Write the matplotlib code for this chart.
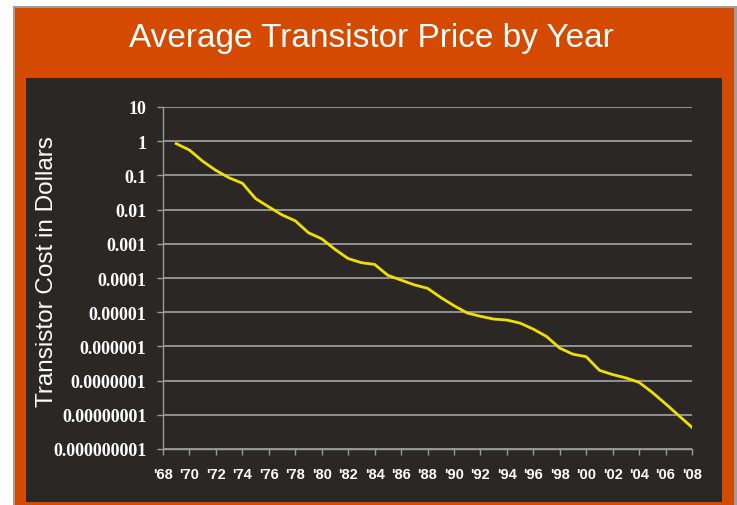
import matplotlib
matplotlib.use("Agg")
import matplotlib.pyplot as plt
from matplotlib.patches import Rectangle

# yearly average transistor price (dollars)
years = list(range(1969, 2009))
cost = [0.85, 0.55, 0.26, 0.14, 0.085, 0.059, 0.021, 0.012, 0.007, 0.0047,
        0.0021, 0.0014, 6.9e-4, 3.7e-4, 2.8e-4, 2.5e-4, 1.2e-4, 8.7e-5, 6.3e-5, 5.0e-5,
        2.7e-5, 1.55e-5, 9.5e-6, 7.6e-6, 6.3e-6, 5.9e-6, 4.8e-6, 3.2e-6, 1.95e-6, 8.9e-7,
        5.9e-7, 5.0e-7, 2.0e-7, 1.5e-7, 1.2e-7, 8.9e-8, 4.5e-8, 2.1e-8, 9.5e-9, 4.3e-9]

ytick_vals = [10, 1, 0.1, 0.01, 0.001, 1e-4, 1e-5, 1e-6, 1e-7, 1e-8, 1e-9]
ytick_labels = ["10", "1", "0.1", "0.01", "0.001", "0.0001", "0.00001", "0.000001",
                "0.0000001", "0.00000001", "0.000000001"]
xtick_years = list(range(1968, 2009, 2))
xtick_labels = ["'%02d" % (y % 100) for y in xtick_years]

W, H = 737, 506
fig = plt.figure(figsize=(W / 100, H / 100), dpi=100)
fig.patch.set_facecolor("white")

def px_rect(x0, y0, x1, y1, color):
    # rectangle given in pixel coords from top-left
    fig.patches.append(Rectangle((x0 / W, 1 - y1 / H), (x1 - x0) / W, (y1 - y0) / H,
                                 transform=fig.transFigure, facecolor=color,
                                 edgecolor="none", zorder=-10))

px_rect(13, 7, 737, 506, "#9a9ea3")      # grey slide border
px_rect(15, 9, 734, 506, "#d44a00")      # orange frame
px_rect(26, 79, 722, 503, "#2b2724")     # dark panel

fig.text(371 / W, 1 - 38 / H, "Average Transistor Price by Year", color="white",
         fontsize=24, ha="center", va="center",
         family=["Liberation Sans Narrow", "Liberation Sans", "DejaVu Sans"])

ax = fig.add_axes([163 / W, 1 - 450 / H, (692 - 163) / W, (450 - 108) / H])
ax.set_facecolor("none")
ax.plot(years, cost, color="#f0e000", lw=2, solid_joinstyle="round")

ax.set_yscale("log")
ax.set_ylim(1e-9, 10)
ax.set_xlim(1968, 2008)
ax.set_yticks(ytick_vals)
ax.set_yticklabels(ytick_labels)
ax.minorticks_off()
ax.set_xticks(xtick_years)
ax.set_xticklabels(xtick_labels)

ax.grid(axis="y", color="#9a9a9a", lw=1.3)
ax.set_axisbelow(True)
for s in ["top", "right"]:
    ax.spines[s].set_visible(False)
for s in ["left", "bottom"]:
    ax.spines[s].set_color("#9a9a9a")
    ax.spines[s].set_linewidth(1)
ax.tick_params(axis="both", colors="#9a9a9a", length=4, width=1, direction="out")
ax.tick_params(axis="y", labelcolor="white", pad=8)
ax.tick_params(axis="x", labelcolor="white", pad=9)
for lab in ax.get_yticklabels():
    lab.set_family(["Liberation Serif", "DejaVu Serif"])
    lab.set_fontweight("bold")
    lab.set_fontsize(13)
for lab in ax.get_xticklabels():
    lab.set_family(["Liberation Sans Narrow", "Liberation Sans", "DejaVu Sans"])
    lab.set_fontweight("bold")
    lab.set_fontsize(10.5)

fig.text(47 / W, 1 - 272 / H, "Transistor Cost in Dollars", color="white", fontsize=17.5,
         rotation=90, ha="center", va="center",
         family=["Liberation Sans", "DejaVu Sans"])

fig.savefig("out.png", dpi=100, facecolor=fig.get_facecolor())
